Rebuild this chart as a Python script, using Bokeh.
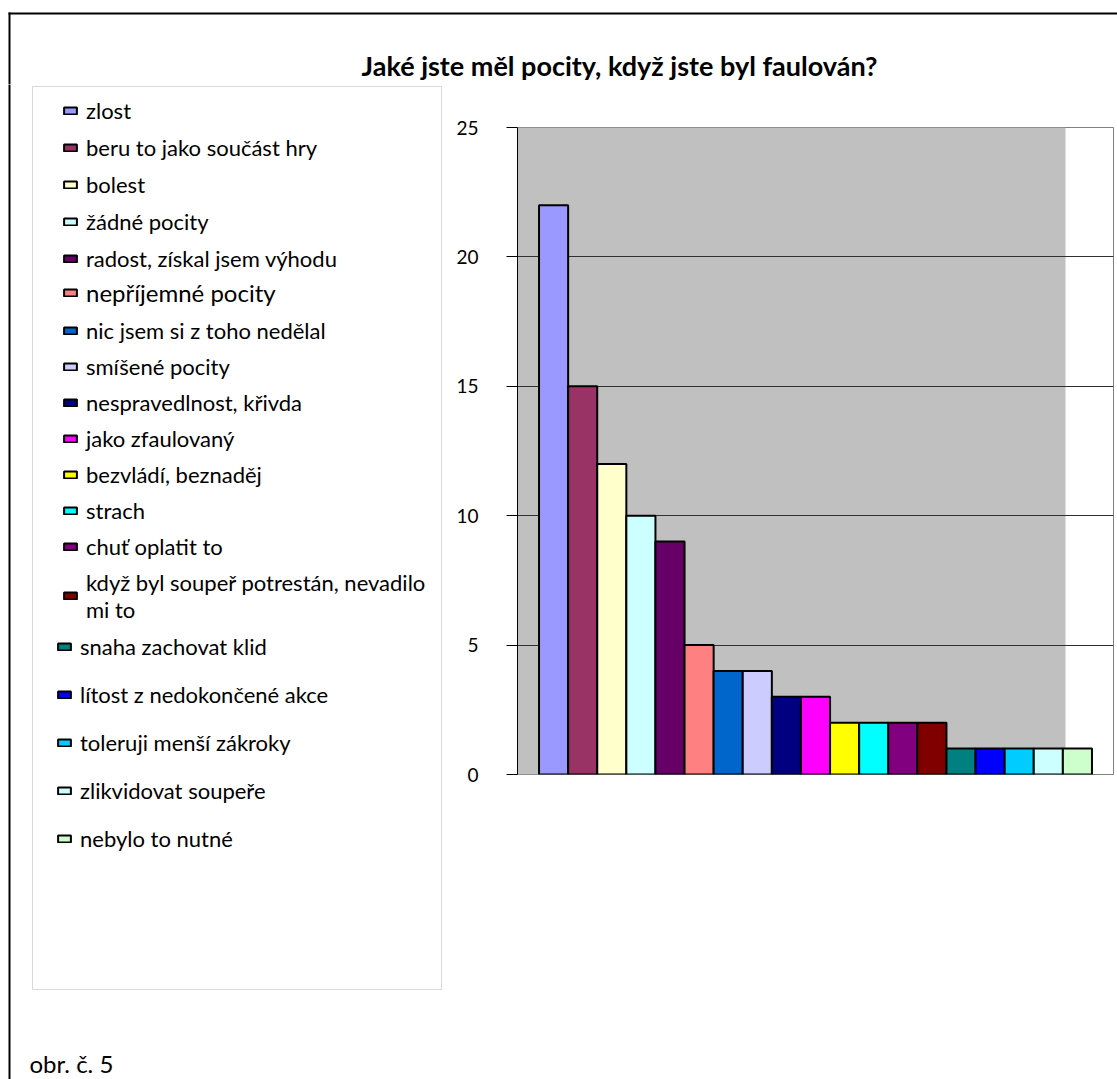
from bokeh.plotting import figure
from bokeh.layouts import column, row
from bokeh.models import Range1d, Legend, LegendItem, Label, BoxAnnotation, FixedTicker
from bokeh.embed import file_html
from bokeh.resources import INLINE

# ---------------- data ----------------
chart_title = "Jaké jste měl pocity, když jste byl faulován?"
caption = "obr. č. 5"
categories = [
    "zlost",
    "beru to jako součást hry",
    "bolest",
    "žádné pocity",
    "radost, získal jsem výhodu",
    "nepříjemné pocity",
    "nic jsem si z toho nedělal",
    "smíšené pocity",
    "nespravedlnost, křivda",
    "jako zfaulovaný",
    "bezvládí, beznaděj",
    "strach",
    "chuť oplatit to",
    "když byl soupeř potrestán, nevadilo\nmi to",
    "snaha zachovat klid",
    "lítost z nedokončené akce",
    "toleruji menší zákroky",
    "zlikvidovat soupeře",
    "nebylo to nutné",
]
values = [22, 15, 12, 10, 9, 5, 4, 4, 3, 3, 2, 2, 2, 2, 1, 1, 1, 1, 1]
colors = [
    "#9999FF", "#993366", "#FFFFCC", "#CCFFFF", "#660066", "#FF8080",
    "#0066CC", "#CCCCFF", "#000080", "#FF00FF", "#FFFF00", "#00FFFF",
    "#800080", "#800000", "#008080", "#0000FF", "#00CCFF", "#CCFFFF",
    "#CCFFCC",
]
y_ticks = [0, 5, 10, 15, 20, 25]

# ---------------- layout constants (page px) ----------------
PW, PH = 1117, 1079
TOP_H = 84          # height of the title strip
SPLIT_X = 446       # boundary between legend panel and chart panel
FL, FT, FR, FB = 517, 127, 1113, 774   # chart frame on the page
FONT = "Lato"

n = len(values)
xs = list(range(n))


def bare(fig):
    fig.title.visible = False
    fig.outline_line_color = None
    fig.background_fill_color = "white"
    fig.border_fill_color = "white"
    fig.xgrid.visible = False
    fig.ygrid.visible = False
    return fig


# ---------------- title strip ----------------
T = bare(figure(width=PW, height=TOP_H, output_backend="svg", toolbar_location=None,
                x_range=Range1d(0, PW), y_range=Range1d(TOP_H, 0),
                x_axis_location=None, y_axis_location=None, min_border=0,
                frame_align=False))
T.add_layout(Label(x=619, y=65, text=chart_title, text_align="center",
                   text_baseline="alphabetic", text_font=FONT, text_font_style="bold",
                   text_font_size="27px", text_color="black"))
for l, r, t, b in [(8, 10, 12, TOP_H + 2), (8, PW, 12, 14)]:
    T.add_layout(BoxAnnotation(left=l, right=r, top=t, bottom=b, fill_color="black",
                               fill_alpha=1, line_alpha=0))

# ---------------- legend panel ----------------
LH_PAGE = PH - TOP_H
L = bare(figure(width=SPLIT_X, height=LH_PAGE, output_backend="svg", toolbar_location=None,
                x_range=Range1d(0, SPLIT_X), y_range=Range1d(PH, TOP_H),
                x_axis_location=None, y_axis_location=None, min_border=0,
                frame_align=False))
L.add_layout(BoxAnnotation(left=8, right=10, top=TOP_H - 2, bottom=PH + 2,
                           fill_color="black", fill_alpha=1, line_alpha=0))
L.add_layout(BoxAnnotation(left=32, right=441, top=86, bottom=989, fill_alpha=0,
                           line_color="#808080", line_width=1))
L.add_layout(Label(x=29, y=1063, text=caption, text_align="left",
                   text_baseline="alphabetic", text_font=FONT, text_font_size="24px",
                   text_color="black"))

# renderer that only feeds the legend swatches (not drawn itself)
swatch = L.vbar(x=xs, top=values, width=1, fill_color=colors, line_color="black",
                line_width=2)
swatch.visible = False

LABEL_H = 27
# (first idx, end idx, font px, first centre y, pitch, swatch left, extra px)
groups = [
    (0, 5, 22, 110, 36.9, 62, 0),
    (5, 6, 24, 293, 37, 62, 0),
    (6, 14, 22, 330, 36, 62, LABEL_H),
    (14, 19, 22, 646, 47.75, 56, 0),
]
for a, b, fs, c0, pitch, sl, extra in groups:
    k = b - a
    sp = int(round(pitch - LABEL_H))
    height = k * LABEL_H + (k - 1) * sp + extra
    bottom_page = c0 - LABEL_H / 2 + height
    items = [LegendItem(label=categories[i], renderers=[swatch], index=i) for i in range(a, b)]
    leg = Legend(items=items, location=(sl, PH - bottom_page),
                 orientation="vertical", padding=0, margin=0,
                 spacing=sp, label_height=LABEL_H,
                 glyph_height=9, glyph_width=16, label_standoff=8,
                 label_text_font=FONT, label_text_font_size=f"{fs}px",
                 label_text_color="black", inactive_fill_alpha=0,
                 border_line_color=None, background_fill_alpha=0)
    L.add_layout(leg)

# ---------------- chart panel ----------------
CW = PW - SPLIT_X
R = figure(width=CW, height=LH_PAGE, output_backend="svg", toolbar_location=None,
           x_range=Range1d(-1.24, n - 0.5 + 0.74), y_range=Range1d(0, 25),
           x_axis_location=None, frame_align=False,
           min_border_left=FL - SPLIT_X, min_border_right=PW - FR,
           min_border_top=FT - TOP_H, min_border_bottom=PH - FB)
R.title.visible = False
R.background_fill_color = "white"
R.border_fill_color = "white"
R.outline_line_color = "#808080"
R.outline_line_width = 1

R.add_layout(BoxAnnotation(right=1065 - FL, right_units="screen", fill_color="#C0C0C0",
                           fill_alpha=1, line_alpha=0, level="image"))

R.vbar(x=xs, top=values, width=1, bottom=0, fill_color=colors,
       line_color="black", line_width=2)

yax = R.yaxis[0]
yax.ticker = FixedTicker(ticks=y_ticks)
yax.axis_line_color = "black"
yax.major_tick_out = 11
yax.major_tick_in = 0
yax.minor_tick_line_color = None
yax.major_tick_line_color = "black"
yax.major_label_text_font = FONT
yax.major_label_text_font_size = "19px"
yax.major_label_text_color = "black"
yax.major_label_standoff = 28

R.xgrid.grid_line_color = None
R.ygrid.ticker = FixedTicker(ticks=y_ticks)
R.ygrid.grid_line_color = "#303030"

layout = column(T, row(L, R, spacing=0), spacing=0)
open("out.html", "w").write(file_html(layout, INLINE))
